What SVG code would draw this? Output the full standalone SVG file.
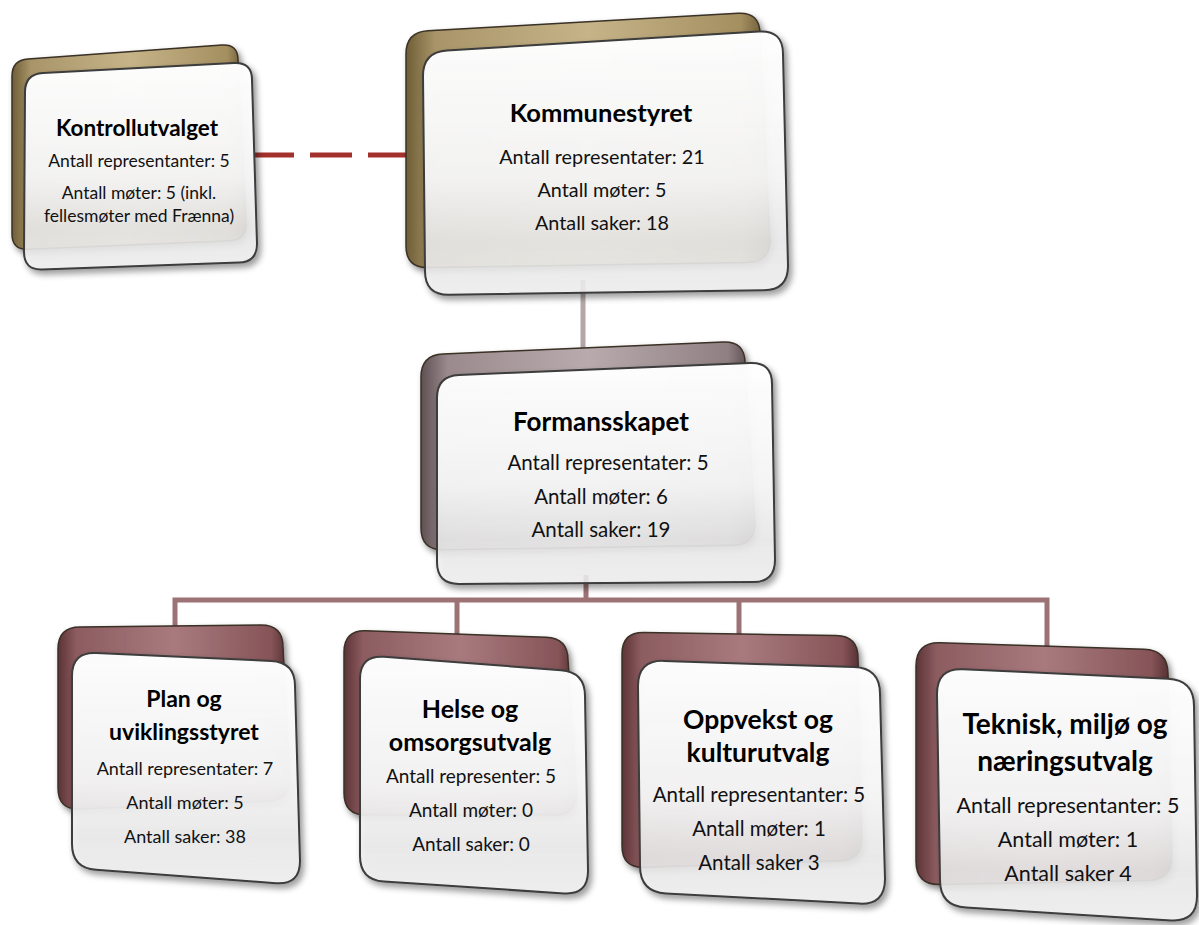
<svg xmlns="http://www.w3.org/2000/svg" width="1199" height="925" viewBox="0 0 1199 925">
<defs>
<linearGradient id="gold" x1="0" y1="0" x2="1" y2="0">
<stop offset="0" stop-color="#6e5d36"/><stop offset="0.08" stop-color="#a89468"/><stop offset="0.5" stop-color="#c6b488"/><stop offset="0.92" stop-color="#a48f60"/><stop offset="1" stop-color="#5e4e2c"/>
</linearGradient>
<linearGradient id="mauve" x1="0" y1="0" x2="1" y2="0">
<stop offset="0" stop-color="#5e5053"/><stop offset="0.08" stop-color="#9a8a8d"/><stop offset="0.5" stop-color="#b9abad"/><stop offset="0.92" stop-color="#8f7f82"/><stop offset="1" stop-color="#4a3d40"/>
</linearGradient>
<linearGradient id="rose" x1="0" y1="0" x2="1" y2="0">
<stop offset="0" stop-color="#5d3337"/><stop offset="0.08" stop-color="#8c5c60"/><stop offset="0.5" stop-color="#a87a7e"/><stop offset="0.92" stop-color="#865458"/><stop offset="1" stop-color="#4c2a2d"/>
</linearGradient>
<linearGradient id="glass" x1="0" y1="0" x2="0" y2="1">
<stop offset="0" stop-color="#ffffff" stop-opacity="0.98"/><stop offset="0.55" stop-color="#f6f6f6" stop-opacity="0.96"/><stop offset="0.8" stop-color="#eeeeee" stop-opacity="0.85"/><stop offset="1" stop-color="#f4f4f4" stop-opacity="0.82"/>
</linearGradient>
<filter id="sh" x="-10%" y="-10%" width="125%" height="125%">
<feDropShadow dx="3" dy="4" stdDeviation="3" flood-color="#000" flood-opacity="0.45"/>
</filter>
<style>
.back{stroke:#3a3026;stroke-width:1.5;filter:url(#sh)}
.g{fill:url(#gold)}
.m{fill:url(#mauve)}
.r{fill:url(#rose)}
.front{fill:url(#glass);stroke:#3c3c3c;stroke-width:2;filter:url(#sh)}
text{font-family:Lato,"Open Sans","Liberation Sans",sans-serif;text-anchor:middle;fill:#111}
.t{font-weight:bold;fill:#000}
.conn{fill:none;stroke-width:5}
</style>
</defs>
<rect width="1199" height="925" fill="#ffffff"/>
<g id="connectors">
<line class="conn" x1="252" y1="155" x2="410" y2="155" stroke="#a3302a" stroke-dasharray="42,16"/>
<line class="conn" x1="583" y1="280" x2="583" y2="370" stroke="#b5a7a8"/>
<path class="conn" stroke="#9c7276" d="M586,575 V600 M175,630 V600 H1047 V650 M457,600 V635 M739,600 V640"/>
</g>
<g id="kontrollutvalget">
<path class="back g" d="M28,58.9 L222,45.1 Q238,44 238,60 L246,224 Q246,240 230,240.7 L28,249.3 Q12,250 12,234 L12,76 Q12,60 28,58.9Z"/>
<path class="front" d="M43,73 L234,63 Q252,62 252,80 L257,244 Q257,262 239,262.6 L42,269.4 Q24,270 24,252 L25,92 Q25,74 43,73Z"/>
<text class="t" x="137" y="136" font-size="22.5">Kontrollutvalget</text>
<text x="139" y="167" font-size="17.5">Antall representanter: 5</text>
<text x="139" y="199" font-size="17.5">Antall møter: 5 (inkl.</text>
<text x="139" y="222" font-size="17.5">fellesmøter med Frænna)</text>
</g>
<g id="kommunestyret">
<path class="back g" d="M428,30.8 L738,13.2 Q760,12 760,34 L770,240 Q770,262 748,262.4 L428,267.6 Q406,268 406,246 L406,54 Q406,32 428,30.8Z"/>
<path class="front" d="M447,50.5 L759,31.5 Q783,30 783,54 L788,266 Q788,290 764,290.3 L449,294.7 Q425,295 425,271 L423,76 Q423,52 447,50.5Z"/>
<text class="t" x="601" y="122" font-size="25.5">Kommunestyret</text>
<text x="602" y="164" font-size="19.8">Antall representater: 21</text>
<text x="602" y="197" font-size="19.8">Antall møter: 5</text>
<text x="602" y="230" font-size="19.8">Antall saker: 18</text>
</g>
<g id="formansskapet">
<path class="back m" d="M443,354 L723,342 Q745,341 745,363 L755,523 Q755,545 733,545.3 L443,549.7 Q421,550 421,528 L421,377 Q421,355 443,354Z"/>
<path class="front" d="M459,375 L750,363 Q772,362 772,384 L775,560 Q775,582 753,582.1 L459,583.9 Q437,584 437,562 L437,398 Q437,376 459,375Z"/>
<text class="t" x="601" y="431" font-size="26">Formansskapet</text>
<text x="608" y="470" font-size="20.5">Antall representater: 5</text>
<text x="601" y="504" font-size="20.5">Antall møter: 6</text>
<text x="601" y="537" font-size="20.5">Antall saker: 19</text>
</g>
<g id="plan">
<path class="back r" d="M80,627 L261,625 Q283,625 283,647 L290,778 Q290,800 268,801 L80,809 Q58,810 58,788 L58,649 Q58,627 80,627Z"/>
<path class="front" d="M96,653.1 L271,660.9 Q295,662 295,686 L300,861 Q300,885 276,883.2 L96,869.8 Q72,868 72,844 L72,676 Q72,652 96,653.1Z"/>
<text class="t" x="184" y="707" font-size="23">Plan og</text>
<text class="t" x="184" y="740" font-size="23">uviklingsstyret</text>
<text x="185" y="775" font-size="18">Antall representater: 7</text>
<text x="185" y="809" font-size="18">Antall møter: 5</text>
<text x="185" y="843" font-size="18">Antall saker: 38</text>
</g>
<g id="helse">
<path class="back r" d="M366,630.8 L546,637.2 Q568,638 568,660 L577,793 Q577,815 555,815 L366,815 Q344,815 344,793 L344,652 Q344,630 366,630.8Z"/>
<path class="front" d="M384,656.8 L561,670.2 Q585,672 585,696 L588,871 Q588,895 564,893.4 L384,881.6 Q360,880 360,856 L360,679 Q360,655 384,656.8Z"/>
<text class="t" x="470" y="718" font-size="25">Helse og</text>
<text class="t" x="470" y="751" font-size="25">omsorgsutvalg</text>
<text x="471" y="783" font-size="19">Antall representer: 5</text>
<text x="471" y="817" font-size="19">Antall møter: 0</text>
<text x="471" y="851" font-size="19">Antall saker: 0</text>
</g>
<g id="oppvekst">
<path class="back r" d="M644,632.4 L836,635.6 Q858,636 858,658 L862,838 Q862,860 840,860.7 L644,867.3 Q622,868 622,846 L622,654 Q622,632 644,632.4Z"/>
<path class="front" d="M664,660.9 L854,667.1 Q880,668 880,694 L885,879 Q885,905 859,903.6 L666,893.4 Q640,892 640,866 L638,686 Q638,660 664,660.9Z"/>
<text class="t" x="758" y="729" font-size="26.5">Oppvekst og</text>
<text class="t" x="758" y="762" font-size="26.5">kulturutvalg</text>
<text x="759" y="802" font-size="20.5">Antall representanter: 5</text>
<text x="759" y="836" font-size="20.5">Antall møter: 1</text>
<text x="759" y="870" font-size="20.5">Antall saker 3</text>
</g>
<g id="teknisk">
<path class="back r" d="M940,642.8 L1144,649.2 Q1168,650 1168,674 L1172,856 Q1172,880 1148,880.5 L940,884.5 Q916,885 916,861 L916,666 Q916,642 940,642.8Z"/>
<path class="front" d="M963,669.2 L1168,678.8 Q1194,680 1194,706 L1197,896 Q1197,922 1171,920.4 L966,907.6 Q940,906 940,880 L937,694 Q937,668 963,669.2Z"/>
<text class="t" x="1065" y="734" font-size="28">Teknisk, miljø og</text>
<text class="t" x="1065" y="771" font-size="28">næringsutvalg</text>
<text x="1068" y="813" font-size="21.5">Antall representanter: 5</text>
<text x="1068" y="847" font-size="21.5">Antall møter: 1</text>
<text x="1068" y="881" font-size="21.5">Antall saker 4</text>
</g>
</svg>
